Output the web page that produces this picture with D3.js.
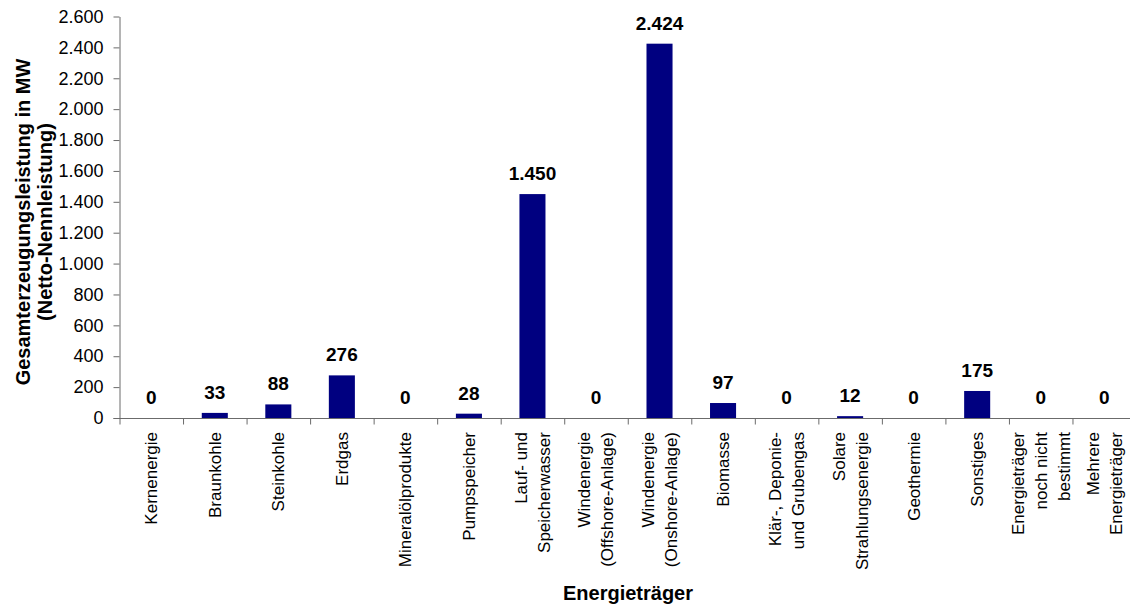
<!DOCTYPE html>
<html>
<head>
<meta charset="utf-8">
<script src="https://cdn.jsdelivr.net/npm/d3@7"></script>
<style>
  html, body { margin: 0; padding: 0; background: #fff; overflow: hidden; }
  svg { display: block; font-family: Arial, "Liberation Sans", sans-serif; }
</style>
</head>
<body>
<svg id="chart" width="1130" height="605"></svg>
<script>
// Energy sources (multi-line labels split on "\n")
const categories = [
  "Kernenergie",
  "Braunkohle",
  "Steinkohle",
  "Erdgas",
  "Mineralölprodukte",
  "Pumpspeicher",
  "Lauf- und\nSpeicherwasser",
  "Windenergie\n(Offshore-Anlage)",
  "Windenergie\n(Onshore-Anlage)",
  "Biomasse",
  "Klär-, Deponie-\nund Grubengas",
  "Solare\nStrahlungsenergie",
  "Geothermie",
  "Sonstiges",
  "Energieträger\nnoch nicht\nbestimmt",
  "Mehrere\nEnergieträger"
];

// Net rated capacity in MW
const values = [0, 33, 88, 276, 0, 28, 1450, 0, 2424, 97, 0, 12, 0, 175, 0, 0];

const yTicks = [0, 200, 400, 600, 800, 1000, 1200, 1400, 1600, 1800, 2000, 2200, 2400, 2600];

const yTitle = ["Gesamterzeugungsleistung in MW", "(Netto-Nennleistung)"];
const xTitle = "Energieträger";

const de = d3.formatLocale({ decimal: ",", thousands: ".", grouping: [3], currency: ["", " €"] });
const fmt = de.format(",d");

const svg = d3.select("#chart");
const plotLeft = 119.5, plotRight = 1136, plotTop = 16.5, plotBottom = 418;
const axisColor = "#6b6b6b";

const x = d3.scaleBand()
  .domain(d3.range(categories.length))
  .range([plotLeft, plotRight])
  .paddingInner(0.59)
  .paddingOuter(0.295);

// Boundaries between categories, for tick marks
const xEdge = d3.scaleLinear().domain([0, categories.length]).range([plotLeft, plotRight]);

const y = d3.scaleLinear().domain([0, 2600]).range([plotBottom, plotTop]);

// Bars
svg.append("g")
  .selectAll("rect")
  .data(values)
  .join("rect")
  .attr("x", (d, i) => x(i))
  .attr("width", x.bandwidth())
  .attr("y", d => y(d))
  .attr("height", d => y(0) - y(d))
  .attr("fill", "#000080");

// Value labels
svg.append("g")
  .selectAll("text")
  .data(values)
  .join("text")
  .attr("x", (d, i) => x(i) + x.bandwidth() / 2)
  .attr("y", d => y(d) - 14)
  .attr("text-anchor", "middle")
  .attr("font-weight", "bold")
  .attr("font-size", 19)
  .attr("fill", "#000")
  .text(d => fmt(d));

// Y axis
const yAxis = svg.append("g")
  .attr("transform", `translate(${plotLeft},0)`)
  .call(d3.axisLeft(y).tickValues(yTicks).tickFormat(fmt).tickSize(6).tickSizeOuter(0).tickPadding(10));
yAxis.select(".domain").attr("stroke", axisColor);
yAxis.selectAll(".tick line").attr("stroke", axisColor);
yAxis.selectAll(".tick text").attr("font-size", 18).attr("fill", "#000").attr("font-family", "Arial, 'Liberation Sans', sans-serif");

// X axis with ticks at category boundaries
const xAxis = svg.append("g")
  .attr("transform", `translate(0,${plotBottom + 0.5})`)
  .call(d3.axisBottom(xEdge).tickValues(d3.range(0, categories.length + 1)).tickFormat("").tickSize(6).tickSizeOuter(0));
xAxis.select(".domain").attr("stroke", axisColor).attr("d", `M${plotLeft - 6},0H${plotRight}`);
xAxis.selectAll(".tick line").attr("stroke", axisColor);

// Category labels, rotated
const catG = svg.append("g");
categories.forEach((c, i) => {
  const lines = c.split("\n");
  const cx = x(i) + x.bandwidth() / 2;
  const lh = 23;
  lines.forEach((ln, j) => {
    const px = cx + (j - (lines.length - 1) / 2) * lh + 6;
    catG.append("text")
      .attr("transform", `translate(${px},${432}) rotate(-90)`)
      .attr("text-anchor", "end")
      .attr("font-size", 17)
      .attr("fill", "#000")
      .text(ln);
  });
});

// Y axis title
const yt = svg.append("g").attr("transform", "translate(0,222)");
yTitle.forEach((t, j) => {
  yt.append("text")
    .attr("transform", `translate(${30 + j * 22},0) rotate(-90)`)
    .attr("text-anchor", "middle")
    .attr("font-weight", "bold")
    .attr("font-size", 20)
    .attr("fill", "#000")
    .text(t);
});

// X axis title
svg.append("text")
  .attr("x", 628)
  .attr("y", 600)
  .attr("text-anchor", "middle")
  .attr("font-weight", "bold")
  .attr("font-size", 20)
  .attr("fill", "#000")
  .text(xTitle);
</script>
</body>
</html>
